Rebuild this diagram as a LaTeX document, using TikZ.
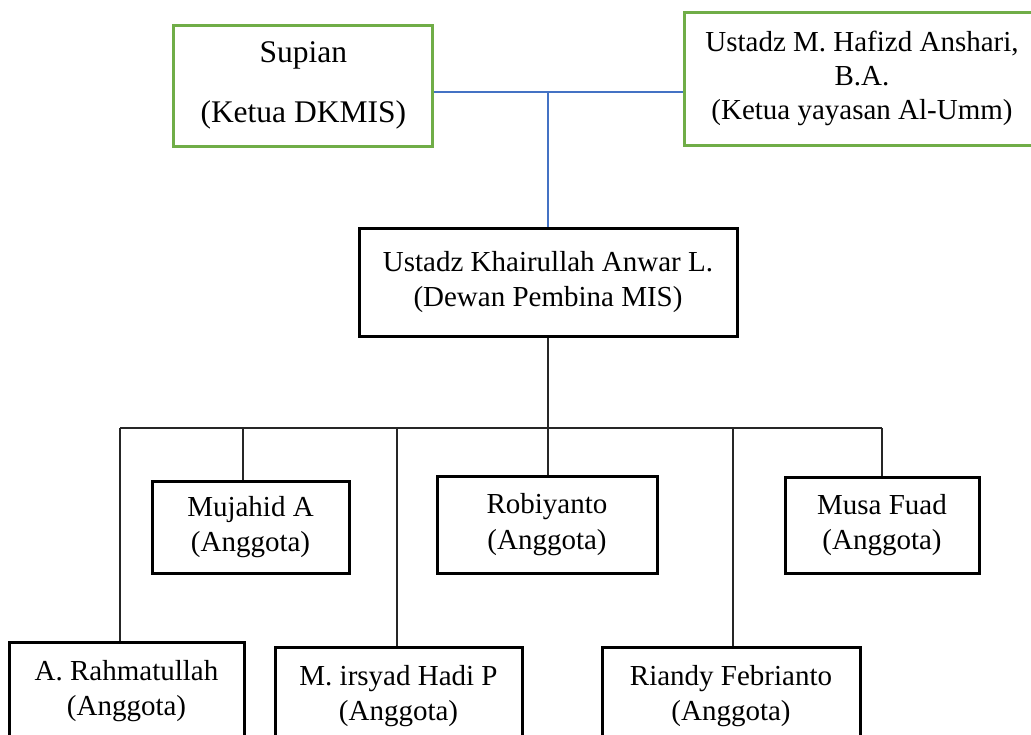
\documentclass[tikz,border=0pt]{standalone}
\usepackage{fontspec}
\setmainfont{Liberation Serif}
\definecolor{boxgreen}{HTML}{70AD47}
\definecolor{linkblue}{HTML}{4472C4}
\begin{document}
\begin{tikzpicture}[x=1pt,y=-1pt,
  box/.style={draw=black,line width=3pt,rectangle,inner sep=0pt,align=center,
    font=\fontsize{29}{35.5}\selectfont},
  gbox/.style={box,draw=boxgreen},
  conn/.style={draw=black!85,line width=1.4pt},
  bconn/.style={draw=linkblue,line width=1.3pt}]
\useasboundingbox (0,0) rectangle (1031,734);
\clip (0,0) rectangle (1031,734);
\fill[white] (0,0) rectangle (1031,734);
% top row
\node[gbox,minimum width=259pt,minimum height=121pt,font=\fontsize{31.5}{60}\selectfont] (sup) at (303.3,85.5) {Supian\\(Ketua DKMIS)};
\node[gbox,minimum width=356pt,minimum height=133pt,font=\fontsize{29}{34}\selectfont] (ush) at (862,78.5) {Ustadz M. Hafizd Anshari,\\B.A.\\(Ketua yayasan Al-Umm)};
\node[box,minimum width=378pt,minimum height=108pt] (kh) at (548,282) {Ustadz Khairullah Anwar L.\\(Dewan Pembina MIS)};
% members
\node[box,minimum width=197pt,minimum height=92pt] (muj) at (250.5,527) {Mujahid A\\(Anggota)};
\node[box,minimum width=220pt,minimum height=97pt] (rob) at (547,524.5) {Robiyanto\\(Anggota)};
\node[box,minimum width=194pt,minimum height=96pt] (musa) at (882,525) {Musa Fuad\\(Anggota)};
\node[box,minimum width=235pt,minimum height=98pt] (rah) at (126.5,691) {A. Rahmatullah\\(Anggota)};
\node[box,minimum width=247pt,minimum height=98pt] (irs) at (398.5,696) {M. irsyad Hadi P\\(Anggota)};
\node[box,minimum width=258pt,minimum height=98pt] (ria) at (731,696) {Riandy Febrianto\\(Anggota)};
% junctions
\coordinate (jtop) at (548,92);
\coordinate (jbus) at (548,428);
\coordinate (b1) at (120,428);
\coordinate (b2) at (243,428);
\coordinate (b3) at (397,428);
\coordinate (b5) at (733,428);
\coordinate (b6) at (882,428);
% blue connectors
\draw[bconn] (sup.east |- jtop) -- (ush.west |- jtop);
\draw[bconn] (jtop) -- (kh.north);
% black connectors
\draw[conn] (kh.south) -- (jbus);
\draw[conn] (b1) -- (b6);
\draw[conn] (b1) -- (b1 |- rah.north);
\draw[conn] (b2) -- (b2 |- muj.north);
\draw[conn] (b3) -- (b3 |- irs.north);
\draw[conn] (jbus) -- (jbus |- rob.north);
\draw[conn] (b5) -- (b5 |- ria.north);
\draw[conn] (b6) -- (musa.north);
\end{tikzpicture}
\end{document}
